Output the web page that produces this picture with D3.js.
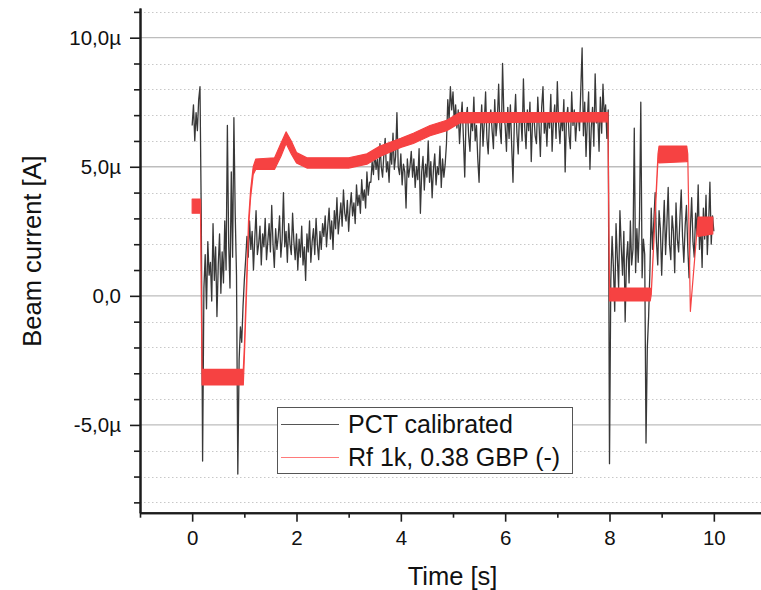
<!DOCTYPE html>
<html>
<head>
<meta charset="utf-8">
<script src="https://cdn.jsdelivr.net/npm/d3@7"></script>
<style>
  html, body { margin: 0; padding: 0; background: #fff; }
  svg { display: block; font-family: "Liberation Sans", Arial, sans-serif; }
</style>
</head>
<body>
<svg id="chart" width="761" height="590"></svg>
<script>
// ---------- DATA ----------
// PCT calibrated trace (µA), sampled every pctStep seconds starting at pctStart
const pctStart = 0;
const pctStep = 0.025;
const pctValues = [
  6.6, 7.4, 6.0, 7.1, 6.4, 7.6, 8.1,
  3.0,
  -6.4,
  0.3, 1.6, -0.5, 2.1, 0.8, 1.3, -0.2, 2.8, 0.6, 1.9, -0.8, 1.2, 2.4, 0.1, 1.7, 0.5, 2.9, 1.0,
  6.6, 2.0, 0.3, 4.8, 1.5, 6.9, 3.2, 0.8, -6.9,
  -2.5, -1.2, -1.8, -0.4, 0.6, 1.4,
  2.3, 1.5, 2.9, 1.8, 2.5, 1.0, 2.2, 3.3, 1.6, 2.0, 2.7, 1.2, 2.4, 1.9, 3.0, 1.4, 2.1, 2.8, 1.7, 3.5,
  2.0, 1.1, 2.6, 1.8, 2.3, 3.1, 1.5, 2.2, 4.0, 1.9, 2.5, 1.3, 2.8, 2.0, 1.6, 3.2, 2.1, 1.4, 2.4,
  1.0, 2.2, 1.5, 2.7, 1.2, 1.9, 0.6, 2.4, 1.7, 2.9, 1.3, 2.1, 2.6, 1.6, 3.0, 2.0, 1.4, 2.5, 1.8, 2.8,
  2.3, 3.1, 1.9, 2.7, 3.4, 2.2, 2.9, 1.8, 3.3, 2.6, 3.8, 2.4, 3.0, 3.6, 2.7, 4.1, 3.2, 2.9, 3.7, 2.5,
  3.4, 4.0, 3.1, 3.6, 2.8, 4.3, 3.5, 3.9, 3.2, 4.5, 3.7, 4.1, 3.4, 4.8, 3.9, 4.4,
  4.4, 5.2, 4.7, 5.6, 4.9, 5.3, 4.5, 5.9, 5.0, 4.6, 5.5, 6.1, 4.8, 5.2, 4.4, 5.7, 5.1, 6.3, 4.9, 5.4,
  7.1, 5.0, 4.7, 5.5, 4.3, 5.1, 4.8, 3.4, 5.3, 4.6, 5.0, 5.6,
  4.6, 5.3, 4.2, 5.0, 4.5, 5.7, 3.2, 4.8, 5.4, 4.1, 5.1, 4.6, 6.0, 4.4, 5.2, 3.8, 4.9, 5.5, 4.3, 5.0,
  4.7, 5.8, 4.2, 5.3, 4.6, 5.1,
  5.9, 7.6, 6.8, 8.1, 7.2, 7.9, 6.7, 7.4,
  6.5, 7.2, 5.9, 6.8, 7.5, 6.1, 4.6, 6.9, 7.3, 6.2,
  5.6, 7.0, 6.4, 7.7, 6.0, 6.6, 5.3, 4.4, 6.3, 7.4,
  5.8, 6.7, 7.9, 6.1, 5.5, 6.9, 7.2, 6.4, 5.7, 7.6,
  6.2, 6.8, 8.2, 6.5, 5.9, 9.0, 7.0, 6.6, 5.6, 7.3,
  6.1, 7.4, 5.8, 4.4, 6.7, 7.8, 6.3, 5.5, 7.1, 6.9,
  6.0, 8.4, 6.5, 5.7, 7.2, 6.4, 7.5, 5.2, 6.8, 7.0,
  6.2, 5.9, 7.7, 6.6, 5.4, 7.3, 8.1, 6.3, 6.9, 5.8,
  7.1, 6.5, 7.8, 5.6, 6.8, 7.4, 6.1, 8.3, 6.7, 5.9,
  7.0, 6.4, 7.6, 4.8, 6.9, 7.3, 6.2, 5.7, 7.9, 6.6,
  7.2, 6.0, 6.8,
  7.1, 6.4, 8.0, 9.6, 6.2, 7.5, 5.4, 6.8, 7.9, 4.9, 6.5, 7.3, 5.8, 8.6, 6.7, 7.0, 5.6, 7.7, 6.3, 8.2,
  6.9, 7.4, 6.1, 7.2,
  -6.5,
  0.6, 2.3, 1.1, -0.6, 2.8, 1.5, 0.3, 3.3, 1.9, 0.8, 2.5, -1.0, 1.4, 2.1, 0.5, 2.9, 1.2, 1.8, 6.5, 0.9,
  2.6, 1.3, 3.0, 7.5, 0.7, 2.2, 1.6,
  -5.7,
  -2.0, -0.8, 1.0,
  3.4, 1.8, 2.9, 4.0, 2.1, 1.2, 3.3, 2.6, 0.8, 2.4, 3.7, 1.6, 2.8, 4.2, 2.0, 1.4, 3.1, 2.5, 0.9, 3.6,
  2.2, 1.7, 3.0, 4.1, 2.3, 1.3, 2.7, 3.5, 1.9, 0.7, 2.6, 3.8, 2.1, 1.5, 3.2, 2.4, 4.3, 1.8, 2.9, 1.1,
  3.4, 2.2, 3.9, 1.6, 2.8, 4.4, 2.0, 3.1, 2.5
];

// Rf 1k, 0.38 GBP (-) trace: time (s), lower and upper envelope of the quantised signal (µA)
const rfTime = [0.00, 0.16, 0.19, 0.98, 1.00, 1.05, 1.08, 1.12, 1.17, 1.22, 1.58, 1.70, 1.80, 1.90, 2.00, 2.20, 3.00, 3.35, 3.60, 4.00, 4.24, 4.56, 4.88, 5.13, 7.97, 8.00, 8.78, 8.80, 8.93, 8.95, 9.48, 9.50, 9.55, 9.68, 9.70, 9.98];
const rfLow  = [3.20, 3.20, -3.45, -3.45, -2.40, 0.60, 2.60, 3.80, 4.70, 4.90, 4.90, 5.40, 5.90, 5.50, 5.15, 4.95, 4.95, 5.10, 5.40, 5.75, 5.90, 6.20, 6.40, 6.70, 6.75, -0.20, -0.20, 0.05, 5.30, 5.15, 5.20, 5.50, -0.60, 2.60, 2.30, 2.40];
const rfHigh = [3.75, 3.75, -2.85, -2.85, -2.00, 1.00, 2.90, 4.10, 5.00, 5.30, 5.35, 5.90, 6.35, 6.00, 5.55, 5.35, 5.35, 5.50, 5.80, 6.10, 6.30, 6.60, 6.80, 7.10, 7.10, 0.30, 0.30, 0.10, 5.50, 5.80, 5.80, 5.50, -0.60, 2.60, 3.05, 3.05];

// Axes
const xMajorTicks = [0, 2, 4, 6, 8, 10];
const xMinorTicks = [-1, 1, 3, 5, 7, 9];
const yMajorTicks = [-5, 0, 5, 10];
const yMajorLabels = ["-5,0µ", "0,0", "5,0µ", "10,0µ"];
const yMinorTicks = [-8, -7, -6, -4, -3, -2, -1, 1, 2, 3, 4, 6, 7, 8, 9, 11];
const xTitle = "Time [s]";
const yTitle = "Beam current [A]";
const seriesNames = ["PCT calibrated", "Rf 1k, 0.38 GBP (-)"];

// ---------- CHART ----------
const svg = d3.select("#chart");
const x = d3.scaleLinear().domain([-1, 11]).range([140, 766]);
const y = d3.scaleLinear().domain([-8.4, 11.15]).range([512.7, 8]);
const [xl, xr] = x.range();

// grid lines
const grid = svg.append("g");
grid.selectAll("line.minor").data(yMinorTicks).join("line")
  .attr("x1", xl).attr("x2", xr)
  .attr("y1", d => Math.round(y(d)) + 0.5).attr("y2", d => Math.round(y(d)) + 0.5)
  .attr("stroke", "#c8c8c8").attr("stroke-width", 1).attr("stroke-dasharray", "1.5,2.5");
grid.selectAll("line.major").data(yMajorTicks).join("line")
  .attr("x1", xl).attr("x2", xr)
  .attr("y1", d => y(d)).attr("y2", d => y(d))
  .attr("stroke", "#bdbdbd").attr("stroke-width", 1.3);

// clip
svg.append("clipPath").attr("id", "plotclip").append("rect")
  .attr("x", xl).attr("y", y.range()[1]).attr("width", xr - xl).attr("height", y.range()[0] - y.range()[1]);

const plot = svg.append("g").attr("clip-path", "url(#plotclip)");

// PCT trace
const pctLine = d3.line()
  .x((d, i) => x(pctStart + i * pctStep))
  .y(d => y(d));
plot.append("path").datum(pctValues)
  .attr("d", pctLine)
  .attr("fill", "none")
  .attr("stroke", "#383838")
  .attr("stroke-width", 1.3)
  .attr("stroke-linejoin", "round");

// Rf trace as band
const rfData = rfTime.map((t, i) => ({ t, lo: rfLow[i], hi: rfHigh[i] }));
const rfArea = d3.area()
  .x(d => x(d.t))
  .y0(d => y(d.lo))
  .y1(d => y(d.hi));
plot.append("path").datum(rfData)
  .attr("d", rfArea)
  .attr("fill", "#f64242")
  .attr("stroke", "#f64242")
  .attr("stroke-width", 1.2)
  .attr("stroke-linejoin", "round");

// axes
const axisColor = "#1c1c1c";
function styleAxis(g) {
  g.select(".domain").attr("stroke", axisColor).attr("stroke-width", 2);
  g.selectAll(".tick line").attr("stroke", axisColor).attr("stroke-width", 1.6);
  g.selectAll(".tick text").attr("fill", "#111").attr("font-size", "20.5px")
    .attr("font-family", "'Liberation Sans', Arial, sans-serif");
}
const xAxisY = y.range()[0];
svg.append("g").attr("transform", `translate(0,${xAxisY})`)
  .call(d3.axisBottom(x).tickValues(xMinorTicks).tickSize(5).tickSizeOuter(0).tickFormat(""))
  .call(styleAxis);
svg.append("g").attr("transform", `translate(0,${xAxisY})`)
  .call(d3.axisBottom(x).tickValues(xMajorTicks).tickSize(9).tickSizeOuter(0).tickPadding(9).tickFormat(d3.format("d")))
  .call(styleAxis);

svg.append("g").attr("transform", `translate(${xl},0)`)
  .call(d3.axisLeft(y).tickValues(yMinorTicks).tickSize(6).tickSizeOuter(0).tickFormat(""))
  .call(styleAxis);
svg.append("g").attr("transform", `translate(${xl},0)`)
  .call(d3.axisLeft(y).tickValues(yMajorTicks).tickSize(10).tickSizeOuter(0).tickPadding(9)
    .tickFormat(d => yMajorLabels[yMajorTicks.indexOf(d)]))
  .call(styleAxis);

// titles
svg.append("text")
  .attr("x", 452.5).attr("y", 585)
  .attr("text-anchor", "middle")
  .attr("font-size", "25.5px").attr("fill", "#111")
  .text(xTitle);
svg.append("text")
  .attr("transform", "translate(40.5,251) rotate(-90)")
  .attr("text-anchor", "middle")
  .attr("font-size", "25.5px").attr("fill", "#111")
  .text(yTitle);

// legend
const lg = svg.append("g");
lg.append("rect")
  .attr("x", 277.5).attr("y", 407.5).attr("width", 295).attr("height", 66)
  .attr("fill", "#fff").attr("stroke", "#555").attr("stroke-width", 1);
const legendColors = ["#555555", "#ff7a7a"];
const legendY = [424, 457];
const legendBase = [432.5, 465.5];
seriesNames.forEach((name, i) => {
  lg.append("line")
    .attr("x1", 281).attr("x2", 339).attr("y1", legendY[i] + 0.5).attr("y2", legendY[i] + 0.5)
    .attr("stroke", legendColors[i]).attr("stroke-width", 1);
  lg.append("text")
    .attr("x", 348).attr("y", legendBase[i])
    .attr("font-size", "25px").attr("fill", "#111")
    .text(name);
});
</script>
</body>
</html>
